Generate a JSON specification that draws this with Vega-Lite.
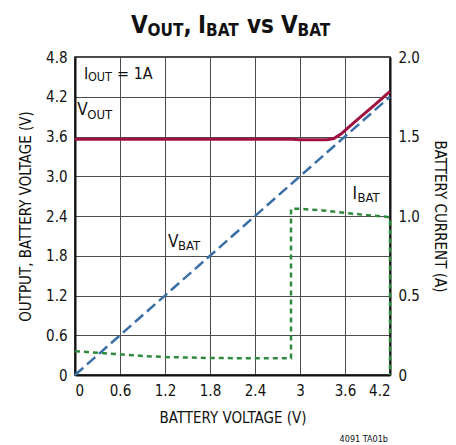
{
  "$schema": "https://vega.github.io/schema/vega-lite/v6.json",
  "width": 315,
  "height": 318,
  "autosize": "none",
  "padding": {"left": 75, "top": 57, "right": 66, "bottom": 70},
  "background": "white",
  "config": {
    "font": "DejaVu Sans Condensed",
    "view": {"stroke": "#111111", "strokeWidth": 1.5},
    "text": {"font": "DejaVu Sans Condensed"},
    "axis": {
      "labelFont": "DejaVu Sans Condensed",
      "titleFont": "DejaVu Sans Condensed",
      "labelFontSize": 15,
      "titleFontSize": 15,
      "titleFontWeight": "normal",
      "labelColor": "#111111",
      "titleColor": "#111111",
      "ticks": false,
      "labelOverlap": false,
      "domainColor": "#111111",
      "domainWidth": 2,
      "gridColor": "#4d4d4d",
      "gridWidth": 1,
      "gridOpacity": 1,
      "labelPadding": 8
    }
  },
  "datasets": {
    "vout": [
      {"v": 0, "o": 3.56},
      {"v": 2.9, "o": 3.56},
      {"v": 3.0, "o": 3.55},
      {"v": 3.36, "o": 3.55},
      {"v": 3.45, "o": 3.57},
      {"v": 3.55, "o": 3.64},
      {"v": 3.65, "o": 3.74},
      {"v": 3.8, "o": 3.89},
      {"v": 4.0, "o": 4.08},
      {"v": 4.2, "o": 4.28}
    ],
    "vbat": [
      {"v": 0, "b": 0},
      {"v": 4.2, "b": 4.2}
    ],
    "ibat": [
      {"k": 1, "v": 0, "i": 0.15},
      {"k": 2, "v": 0.3, "i": 0.14},
      {"k": 3, "v": 0.6, "i": 0.13},
      {"k": 4, "v": 0.9, "i": 0.12},
      {"k": 5, "v": 1.2, "i": 0.113},
      {"k": 6, "v": 1.8, "i": 0.107},
      {"k": 7, "v": 2.4, "i": 0.105},
      {"k": 8, "v": 2.88, "i": 0.105},
      {"k": 9, "v": 2.88, "i": 1.045},
      {"k": 10, "v": 3.0, "i": 1.045},
      {"k": 11, "v": 3.3, "i": 1.035},
      {"k": 12, "v": 3.6, "i": 1.02},
      {"k": 13, "v": 3.9, "i": 1.005},
      {"k": 14, "v": 4.15, "i": 0.995},
      {"k": 15, "v": 4.2, "i": 0.99},
      {"k": 16, "v": 4.2, "i": 0}
    ]
  },
  "layer": [
    {
      "layer": [
        {
          "data": {"name": "vbat"},
          "mark": {"type": "line", "color": "#3a6ea7", "strokeWidth": 2.5, "strokeDash": [11, 5]},
          "encoding": {
            "x": {
              "field": "v", "type": "quantitative",
              "scale": {"domain": [0, 4.2], "nice": false, "zero": false},
              "axis": {
                "title": "BATTERY VOLTAGE (V)",
                "values": [0, 0.6, 1.2, 1.8, 2.4, 3, 3.6, 4.2],
                "tickCount": 12,
                "labelExpr": "datum.value == 0 ? '0' : datum.value == 3 ? '3' : format(datum.value, '.1f')",
                "grid": true,
                "titlePadding": 12
              }
            },
            "y": {
              "field": "b", "type": "quantitative",
              "scale": {"domain": [0, 4.8], "nice": false},
              "axis": {
                "title": "OUTPUT, BATTERY VOLTAGE (V)",
                "values": [0, 0.6, 1.2, 1.8, 2.4, 3, 3.6, 4.2, 4.8],
                "tickCount": 12,
                "labelExpr": "datum.value == 0 ? '0' : format(datum.value, '.1f')",
                "grid": true,
                "titlePadding": 12
              }
            }
          }
        },
        {
          "data": {"name": "vout"},
          "mark": {"type": "line", "color": "#a0113f", "strokeWidth": 3},
          "encoding": {
            "x": {
              "field": "v", "type": "quantitative",
              "axis": {
                "title": "BATTERY VOLTAGE (V)",
                "values": [0, 0.6, 1.2, 1.8, 2.4, 3, 3.6, 4.2],
                "tickCount": 12,
                "labelExpr": "datum.value == 0 ? '0' : datum.value == 3 ? '3' : format(datum.value, '.1f')",
                "grid": true,
                "titlePadding": 12
              }
            },
            "y": {
              "field": "o", "type": "quantitative",
              "axis": {
                "title": "OUTPUT, BATTERY VOLTAGE (V)",
                "values": [0, 0.6, 1.2, 1.8, 2.4, 3, 3.6, 4.2, 4.8],
                "tickCount": 12,
                "labelExpr": "datum.value == 0 ? '0' : format(datum.value, '.1f')",
                "grid": true,
                "titlePadding": 12
              }
            }
          }
        },
        {
          "data": {"values": [{}]},
          "mark": {"type": "text", "text": "V", "align": "left", "baseline": "alphabetic", "fontSize": 24, "fontWeight": "bold", "dx": 56, "dy": -24.5, "color": "#111111"},
          "encoding": {"x": {"datum": 0}, "y": {"datum": 4.8}}
        },
        {
          "data": {"values": [{}]},
          "mark": {"type": "text", "text": "OUT", "align": "left", "baseline": "alphabetic", "fontSize": 17, "fontWeight": "bold", "dx": 72.5, "dy": -21, "color": "#111111"},
          "encoding": {"x": {"datum": 0}, "y": {"datum": 4.8}}
        },
        {
          "data": {"values": [{}]},
          "mark": {"type": "text", "text": ",", "align": "left", "baseline": "alphabetic", "fontSize": 24, "fontWeight": "bold", "dx": 108.5, "dy": -24.5, "color": "#111111"},
          "encoding": {"x": {"datum": 0}, "y": {"datum": 4.8}}
        },
        {
          "data": {"values": [{}]},
          "mark": {"type": "text", "text": "I", "align": "left", "baseline": "alphabetic", "fontSize": 24, "fontWeight": "bold", "dx": 123, "dy": -24.5, "color": "#111111"},
          "encoding": {"x": {"datum": 0}, "y": {"datum": 4.8}}
        },
        {
          "data": {"values": [{}]},
          "mark": {"type": "text", "text": "BAT", "align": "left", "baseline": "alphabetic", "fontSize": 17, "fontWeight": "bold", "dx": 131, "dy": -21, "color": "#111111"},
          "encoding": {"x": {"datum": 0}, "y": {"datum": 4.8}}
        },
        {
          "data": {"values": [{}]},
          "mark": {"type": "text", "text": "vs", "align": "left", "baseline": "alphabetic", "fontSize": 24, "fontWeight": "bold", "dx": 172, "dy": -24.5, "color": "#111111"},
          "encoding": {"x": {"datum": 0}, "y": {"datum": 4.8}}
        },
        {
          "data": {"values": [{}]},
          "mark": {"type": "text", "text": "V", "align": "left", "baseline": "alphabetic", "fontSize": 24, "fontWeight": "bold", "dx": 206, "dy": -24.5, "color": "#111111"},
          "encoding": {"x": {"datum": 0}, "y": {"datum": 4.8}}
        },
        {
          "data": {"values": [{}]},
          "mark": {"type": "text", "text": "BAT", "align": "left", "baseline": "alphabetic", "fontSize": 17, "fontWeight": "bold", "dx": 222.5, "dy": -21, "color": "#111111"},
          "encoding": {"x": {"datum": 0}, "y": {"datum": 4.8}}
        },
        {
          "data": {"values": [{}]},
          "mark": {"type": "text", "text": "I", "align": "left", "baseline": "alphabetic", "fontSize": 16, "dx": 9, "dy": 21.5, "color": "#111111"},
          "encoding": {"x": {"datum": 0}, "y": {"datum": 4.8}}
        },
        {
          "data": {"values": [{}]},
          "mark": {"type": "text", "text": "OUT", "align": "left", "baseline": "alphabetic", "fontSize": 12.5, "dx": 13, "dy": 24, "color": "#111111"},
          "encoding": {"x": {"datum": 0}, "y": {"datum": 4.8}}
        },
        {
          "data": {"values": [{}]},
          "mark": {"type": "text", "text": "= 1A", "align": "left", "baseline": "alphabetic", "fontSize": 16, "dx": 42, "dy": 21.5, "color": "#111111"},
          "encoding": {"x": {"datum": 0}, "y": {"datum": 4.8}}
        },
        {
          "data": {"values": [{}]},
          "mark": {"type": "text", "text": "V", "align": "left", "baseline": "alphabetic", "fontSize": 17, "dx": 0, "dy": 0, "color": "#111111"},
          "encoding": {"x": {"datum": 0.03}, "y": {"datum": 3.92}}
        },
        {
          "data": {"values": [{}]},
          "mark": {"type": "text", "text": "OUT", "align": "left", "baseline": "alphabetic", "fontSize": 13, "dx": 10, "dy": 4, "color": "#111111"},
          "encoding": {"x": {"datum": 0.03}, "y": {"datum": 3.92}}
        },
        {
          "data": {"values": [{}]},
          "mark": {"type": "text", "text": "V", "align": "left", "baseline": "alphabetic", "fontSize": 17, "dx": 0, "dy": 0, "color": "#111111"},
          "encoding": {"x": {"datum": 1.24}, "y": {"datum": 1.93}}
        },
        {
          "data": {"values": [{}]},
          "mark": {"type": "text", "text": "BAT", "align": "left", "baseline": "alphabetic", "fontSize": 13, "dx": 10, "dy": 3, "color": "#111111"},
          "encoding": {"x": {"datum": 1.24}, "y": {"datum": 1.93}}
        },
        {
          "data": {"values": [{}]},
          "mark": {"type": "text", "text": "I", "align": "left", "baseline": "alphabetic", "fontSize": 17, "dx": 0, "dy": 0, "color": "#111111"},
          "encoding": {"x": {"datum": 3.7}, "y": {"datum": 2.66}}
        },
        {
          "data": {"values": [{}]},
          "mark": {"type": "text", "text": "BAT", "align": "left", "baseline": "alphabetic", "fontSize": 13, "dx": 5, "dy": 3, "color": "#111111"},
          "encoding": {"x": {"datum": 3.7}, "y": {"datum": 2.66}}
        },
        {
          "data": {"values": [{}]},
          "mark": {"type": "text", "text": "4091 TA01b", "align": "right", "baseline": "alphabetic", "fontSize": 9, "dx": -2, "dy": 67, "color": "#111111"},
          "encoding": {"x": {"datum": 4.2}, "y": {"datum": 0}}
        }
      ]
    },
    {
      "data": {"name": "ibat"},
      "mark": {"type": "line", "color": "#2e8a3e", "strokeWidth": 2.5, "strokeDash": [5, 4]},
      "encoding": {
        "x": {"field": "v", "type": "quantitative"},
        "y": {
          "field": "i", "type": "quantitative",
          "scale": {"domain": [0, 2], "nice": false},
          "axis": {
            "orient": "right",
            "title": "BATTERY CURRENT (A)",
            "values": [0, 0.5, 1, 1.5, 2],
            "tickCount": 12,
            "labelExpr": "datum.value == 0 ? '0' : format(datum.value, '.1f')",
            "grid": false,
            "titlePadding": 12
          }
        },
        "order": {"field": "k", "type": "quantitative"}
      }
    }
  ],
  "resolve": {"scale": {"y": "independent"}}
}
